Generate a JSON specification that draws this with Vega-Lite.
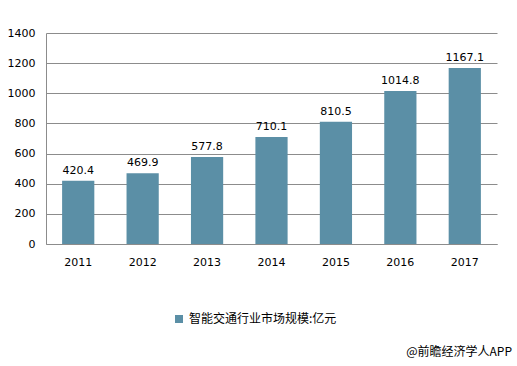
{
  "$schema": "https://vega.github.io/schema/vega-lite/v6.json",
  "width": 451,
  "height": 211,
  "autosize": "none",
  "padding": {"left": 46, "top": 33, "right": 20, "bottom": 122},
  "background": "white",
  "config": {
    "view": {"stroke": null},
    "font": "DejaVu Sans"
  },
  "title": {
    "text": "@前瞻经济学人APP",
    "orient": "bottom",
    "anchor": "end",
    "frame": "group",
    "dx": 15,
    "offset": 22,
    "font": "Noto Sans CJK SC",
    "fontSize": 12,
    "fontWeight": "normal",
    "color": "#000000"
  },
  "data": {
    "values": [
      {"year": "2011", "value": 420.4, "series": "智能交通行业市场规模:亿元"},
      {"year": "2012", "value": 469.9, "series": "智能交通行业市场规模:亿元"},
      {"year": "2013", "value": 577.8, "series": "智能交通行业市场规模:亿元"},
      {"year": "2014", "value": 710.1, "series": "智能交通行业市场规模:亿元"},
      {"year": "2015", "value": 810.5, "series": "智能交通行业市场规模:亿元"},
      {"year": "2016", "value": 1014.8, "series": "智能交通行业市场规模:亿元"},
      {"year": "2017", "value": 1167.1, "series": "智能交通行业市场规模:亿元"}
    ]
  },
  "encoding": {
    "x": {
      "field": "year",
      "type": "nominal",
      "scale": {"paddingInner": 0.5, "paddingOuter": 0.25},
      "axis": {
        "title": null,
        "labelAngle": 0,
        "ticks": false,
        "labelPadding": 12,
        "labelFontSize": 11,
        "labelColor": "#000000",
        "domainColor": "#8c8c8c",
        "grid": false
      }
    },
    "y": {
      "field": "value",
      "type": "quantitative",
      "scale": {"domain": [0, 1400]},
      "axis": {
        "title": null,
        "values": [0, 200, 400, 600, 800, 1000, 1200, 1400],
        "format": "d",
        "ticks": false,
        "labelPadding": 11,
        "labelFontSize": 11,
        "labelColor": "#000000",
        "domainColor": "#8c8c8c",
        "gridColor": "#8c8c8c",
        "gridOpacity": 1
      }
    }
  },
  "layer": [
    {
      "mark": {"type": "bar", "color": "#5b8fa6"},
      "encoding": {
        "color": {
          "field": "series",
          "type": "nominal",
          "scale": {"range": ["#5b8fa6"]},
          "legend": {
            "title": null,
            "orient": "none",
            "legendX": 127,
            "legendY": 280,
            "symbolType": "square",
            "symbolSize": 64,
            "symbolStrokeWidth": 0,
            "labelFont": "Noto Sans CJK SC",
            "labelFontSize": 12,
            "labelColor": "#000000",
            "labelOffset": 4
          }
        }
      }
    },
    {
      "mark": {"type": "text", "dy": -10, "fontSize": 11, "color": "#000000"},
      "encoding": {
        "text": {"field": "value", "type": "quantitative", "format": ".1f"}
      }
    }
  ]
}
